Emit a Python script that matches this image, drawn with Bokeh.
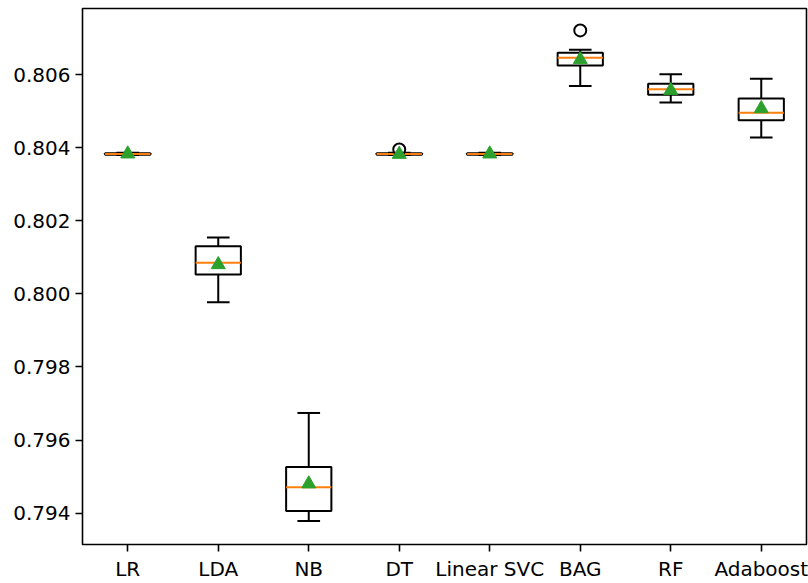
import numpy as np
from bokeh.plotting import figure
from bokeh.models import Range1d, FixedTicker, NumeralTickFormatter, ColumnDataSource
from bokeh.embed import file_html
from bokeh.resources import INLINE

# ---- data ----
models = ["LR", "LDA", "NB", "DT", "Linear SVC", "BAG", "RF", "Adaboost"]
whisker_lo = [0.80380, 0.79977, 0.79378, 0.80380, 0.80380, 0.80569, 0.80524, 0.80428]
q1 = [0.80381, 0.80053, 0.79406, 0.80381, 0.80381, 0.80625, 0.80545, 0.80475]
median = [0.80383, 0.80085, 0.79471, 0.80383, 0.80383, 0.80646, 0.80560, 0.80496]
q3 = [0.80385, 0.80130, 0.79526, 0.80385, 0.80385, 0.80660, 0.80575, 0.80535]
whisker_hi = [0.80386, 0.80154, 0.79674, 0.80386, 0.80386, 0.80668, 0.80601, 0.80589]
means = [0.80383, 0.80080, 0.79480, 0.80382, 0.80383, 0.80641, 0.80557, 0.80507]
outlier_model = ["DT", "BAG"]
outlier_val = [0.80395, 0.80721]
y_ticks = [0.794, 0.796, 0.798, 0.800, 0.802, 0.804, 0.806]

pos = np.arange(1, len(models) + 1, dtype=float)
box_w = 0.5
cap_w = 0.25

src = ColumnDataSource(dict(
    x=pos, lo=whisker_lo, q1=q1, med=median, q3=q3, hi=whisker_hi, mean=means,
    xl=pos - box_w / 2, xr=pos + box_w / 2,
    cl=pos - cap_w / 2, cr=pos + cap_w / 2,
))
out_x = [pos[models.index(m)] for m in outlier_model]

FONT = "DejaVu Sans"

p = figure(width=808, height=583, output_backend="svg", toolbar_location=None,
           x_range=Range1d(0.5, 8.5), y_range=Range1d(0.79314, 0.80781),
           min_border_left=82, min_border_right=2, min_border_top=8, min_border_bottom=37)
p.xgrid.visible = False
p.ygrid.visible = False
p.background_fill_color = "white"
p.border_fill_color = "white"
p.outline_line_color = "black"
p.outline_line_width = 1.6

# whiskers
p.segment(x0="x", y0="q3", x1="x", y1="hi", source=src, line_color="black", line_width=2)
p.segment(x0="x", y0="q1", x1="x", y1="lo", source=src, line_color="black", line_width=2)
# caps
p.segment(x0="cl", y0="hi", x1="cr", y1="hi", source=src, line_color="black", line_width=2)
p.segment(x0="cl", y0="lo", x1="cr", y1="lo", source=src, line_color="black", line_width=2)
# boxes
p.vbar(x="x", width=box_w, bottom="q1", top="q3", source=src,
       fill_color=None, line_color="black", line_width=2)
# medians
p.segment(x0="xl", y0="med", x1="xr", y1="med", source=src, line_color="#ff7f0e", line_width=2)
# outliers
p.scatter(x=out_x, y=outlier_val, marker="circle", size=12,
          fill_color=None, line_color="black", line_width=2)
# means
p.scatter(x="x", y="mean", source=src, marker="triangle", size=14,
          fill_color="#2ca02c", line_color="#2ca02c")

for ax in (p.xaxis[0], p.yaxis[0]):
    ax.axis_line_color = None
    ax.major_tick_out = 7
    ax.major_tick_in = 0
    ax.minor_tick_line_color = None
    ax.major_tick_line_width = 1.6
    ax.major_tick_line_color = "black"
    ax.major_label_text_font = FONT
    ax.major_label_text_font_size = "20px"
    ax.major_label_text_color = "black"
    ax.major_label_standoff = 5

p.xaxis[0].ticker = FixedTicker(ticks=list(pos))
p.xaxis[0].major_label_overrides = {float(x): m for x, m in zip(pos, models)}
p.xaxis[0].major_label_overrides.update({int(x): m for x, m in zip(pos, models)})
p.yaxis[0].ticker = FixedTicker(ticks=y_ticks)
p.yaxis[0].formatter = NumeralTickFormatter(format="0.000")

open("out.html", "w").write(file_html(p, INLINE))
